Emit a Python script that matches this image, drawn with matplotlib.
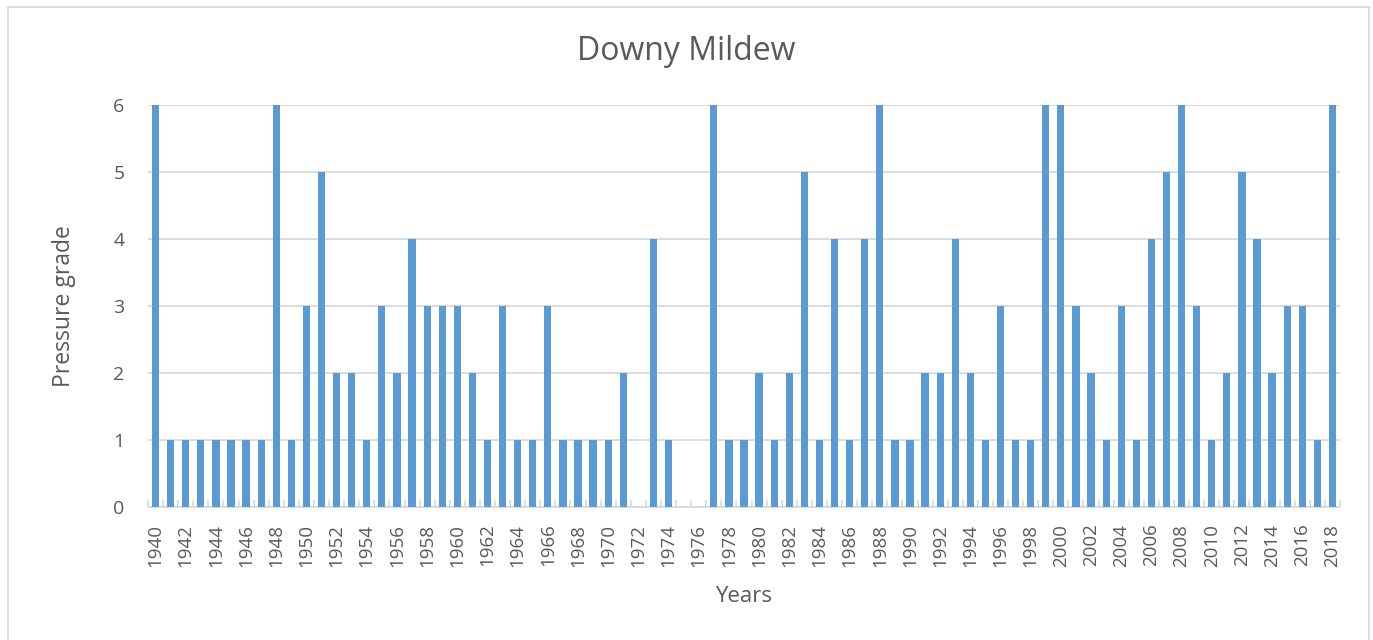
import matplotlib
matplotlib.use("Agg")
import matplotlib.pyplot as plt
from matplotlib.patches import Rectangle
import numpy as np

plt.rcParams['font.family'] = ['Open Sans', 'DejaVu Sans']

# Downy mildew pressure grade per year
years = list(range(1940, 2019))
grades = [6, 1, 1, 1, 1, 1, 1, 1, 6, 1,   # 1940-1949
          3, 5, 2, 2, 1, 3, 2, 4, 3, 3,   # 1950-1959
          3, 2, 1, 3, 1, 1, 3, 1, 1, 1,   # 1960-1969
          1, 2, 0, 4, 1, 0, 0, 6, 1, 1,   # 1970-1979
          2, 1, 2, 5, 1, 4, 1, 4, 6, 1,   # 1980-1989
          1, 2, 2, 4, 2, 1, 3, 1, 1, 6,   # 1990-1999
          6, 3, 2, 1, 3, 1, 4, 5, 6, 3,   # 2000-2009
          1, 2, 5, 4, 2, 3, 3, 1, 6]      # 2010-2018

bar_color = '#5B9BD5'
text_color = '#595959'
grid_color = '#D9D9D9'

fig = plt.figure(figsize=(13.73, 6.4), dpi=100)
ax = fig.add_axes([148 / 1373, 1 - 507 / 640, (1340 - 148) / 1373, (507 - 105) / 640])

x = np.arange(len(years))
ax.bar(x, grades, width=0.48, color=bar_color, zorder=3)

ax.set_xlim(-0.5, len(years) - 0.5)
ax.set_ylim(0, 6)
ax.set_yticks(range(0, 7))
ax.grid(axis='y', color=grid_color, linewidth=1.3, zorder=0)

# category labels every other year, tick marks between categories
ax.set_xticks(x[::2])
ax.set_xticklabels([str(y) for y in years[::2]], rotation=90)
ax.set_xticks(np.arange(-0.5, len(years)), minor=True)
ax.tick_params(axis='x', which='major', length=0, pad=12, labelsize=13.5, labelcolor=text_color)
ax.tick_params(axis='x', which='minor', direction='in', length=5, color=grid_color, width=1.2)
ax.tick_params(axis='y', length=0, pad=17, labelsize=14, labelcolor=text_color)

for side in ['top', 'right', 'left']:
    ax.spines[side].set_visible(False)
ax.spines['bottom'].set_color(grid_color)
ax.spines['bottom'].set_linewidth(1.3)

fig.text(0.5, 1 - 52 / 640, 'Downy Mildew', fontsize=23, color=text_color,
         ha='center', va='center')
ax.set_xlabel('Years', fontsize=16, color=text_color, labelpad=14)
ax.set_ylabel('Pressure grade', fontsize=16.5, color=text_color, labelpad=27)

# chart area border
fig.patches.append(Rectangle((8 / 1373, -0.01), (1369 - 8) / 1373, 1 - 7 / 640 + 0.01,
                             transform=fig.transFigure, fill=False,
                             edgecolor=grid_color, linewidth=1.3))

fig.savefig('out.png', dpi=100)
